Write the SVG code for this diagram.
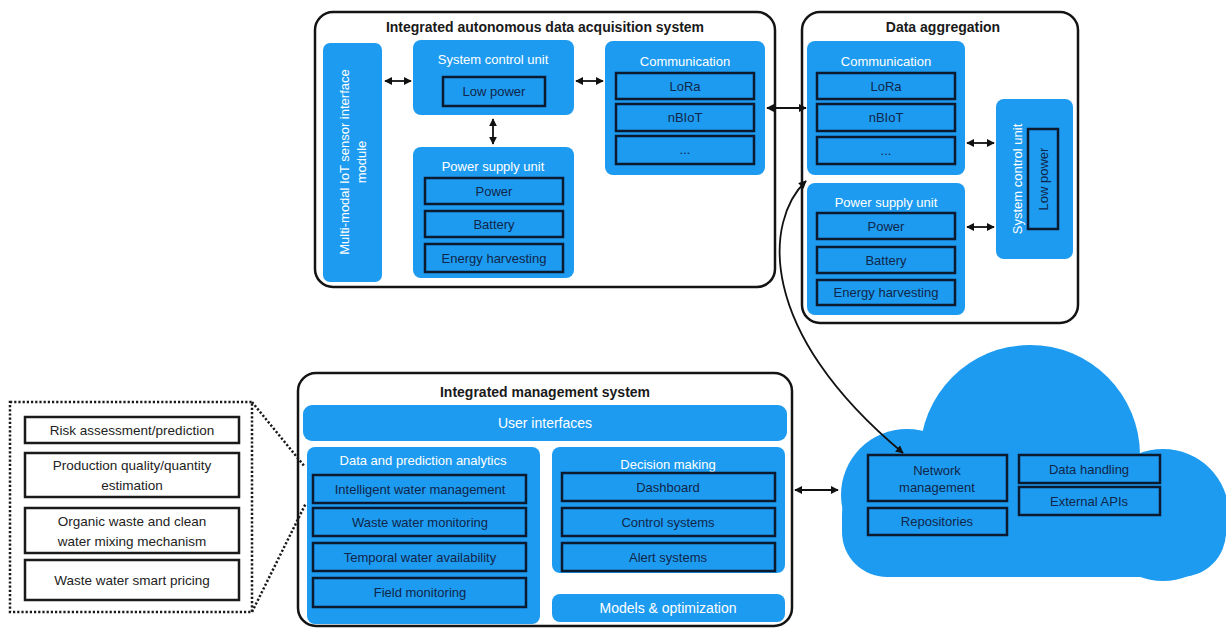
<svg xmlns="http://www.w3.org/2000/svg" width="1226" height="628" viewBox="0 0 1226 628">
<defs>
<style>
.frame{fill:#fff;stroke:#141414;stroke-width:2.5}
.panel{fill:#1d9bf0}
.sub{fill:#1d9bf0;stroke:#0c1a30;stroke-width:2.5}
.wbox{fill:#fff;stroke:#1a1a1a;stroke-width:2.5}
.dot{fill:none;stroke:#1a1a1a;stroke-width:2.5;stroke-dasharray:2.2 2}
.title{font-family:"Liberation Sans",Arial,sans-serif;font-weight:bold;font-size:14px;fill:#1a1a1a;text-anchor:middle}
.pt{font-family:"Liberation Sans",Arial,sans-serif;font-size:13px;fill:#fff;text-anchor:middle}
.st{font-family:"Liberation Sans",Arial,sans-serif;font-size:13px;fill:#10264a;text-anchor:middle}
.lt{font-family:"Liberation Sans",Arial,sans-serif;font-size:13.5px;fill:#222;text-anchor:middle}
.conn{fill:none;stroke:#111;stroke-width:1.8}
.cloud{fill:#1d9bf0}
</style>
<marker id="ah" viewBox="0 0 10 10" refX="9" refY="5" markerWidth="8" markerHeight="8" markerUnits="userSpaceOnUse" orient="auto-start-reverse">
<path d="M0,0 L10,5 L0,10 z" fill="#111"/>
</marker>
</defs>

<g id="acquisition-system">
<rect class="frame" x="315" y="12" width="460" height="275" rx="18"/>
<text class="title" x="545" y="32">Integrated autonomous data acquisition system</text>
</g>
<g id="multimodal-module">
<rect class="panel" x="323" y="43" width="59" height="239" rx="7"/>
<text class="pt" transform="translate(349,162) rotate(-90)">Multi-modal IoT sensor interface</text>
<text class="pt" transform="translate(366,162) rotate(-90)">module</text>
</g>
<g id="acq-system-control-unit">
<rect class="panel" x="413" y="40" width="161" height="75" rx="8"/>
<text class="pt" x="493" y="64">System control unit</text>
<rect class="sub" x="443" y="77" width="102" height="29"/>
<text class="st" x="494" y="96">Low power</text>
</g>
<g id="acq-power-supply-unit">
<rect class="panel" x="413" y="147" width="161" height="131" rx="8"/>
<text class="pt" x="493" y="171">Power supply unit</text>
<rect class="sub" x="425" y="178" width="138" height="26"/>
<text class="st" x="494" y="196">Power</text>
<rect class="sub" x="425" y="211" width="138" height="26"/>
<text class="st" x="494" y="229">Battery</text>
<rect class="sub" x="425" y="244" width="138" height="28"/>
<text class="st" x="494" y="263">Energy harvesting</text>
</g>
<g id="acq-communication">
<rect class="panel" x="605" y="41" width="160" height="134" rx="8"/>
<text class="pt" x="685" y="66">Communication</text>
<rect class="sub" x="616" y="73" width="138" height="26"/>
<text class="st" x="685" y="91">LoRa</text>
<rect class="sub" x="616" y="104" width="138" height="27"/>
<text class="st" x="685" y="122">nBIoT</text>
<rect class="sub" x="616" y="136" width="138" height="28"/>
<text class="st" x="685" y="154">...</text>
</g>

<g id="data-aggregation">
<rect class="frame" x="802" y="12" width="276" height="311" rx="18"/>
<text class="title" x="943" y="32">Data aggregation</text>
</g>
<g id="agg-communication">
<rect class="panel" x="807" y="41" width="158" height="134" rx="8"/>
<text class="pt" x="886" y="66">Communication</text>
<rect class="sub" x="817" y="73" width="138" height="26"/>
<text class="st" x="886" y="91">LoRa</text>
<rect class="sub" x="817" y="104" width="138" height="27"/>
<text class="st" x="886" y="122">nBIoT</text>
<rect class="sub" x="817" y="137" width="138" height="27"/>
<text class="st" x="886" y="155">...</text>
</g>
<g id="agg-power-supply-unit">
<rect class="panel" x="807" y="183" width="158" height="132" rx="8"/>
<text class="pt" x="886" y="207">Power supply unit</text>
<rect class="sub" x="817" y="213" width="138" height="26"/>
<text class="st" x="886" y="231">Power</text>
<rect class="sub" x="817" y="247" width="138" height="26"/>
<text class="st" x="886" y="265">Battery</text>
<rect class="sub" x="817" y="280" width="138" height="25"/>
<text class="st" x="886" y="297">Energy harvesting</text>
</g>
<g id="agg-system-control-unit">
<rect class="panel" x="996" y="99" width="77" height="160" rx="8"/>
<text class="pt" transform="translate(1022,179) rotate(-90)">System control unit</text>
<rect class="sub" x="1028" y="129" width="30" height="100"/>
<text class="st" transform="translate(1048,179) rotate(-90)">Low power</text>
</g>

<g id="management-system">
<rect class="frame" x="298" y="373" width="494" height="253" rx="18"/>
<text class="title" x="545" y="397">Integrated management system</text>
</g>
<g id="user-interfaces">
<rect class="panel" x="303" y="405" width="484" height="36" rx="9"/>
<text class="pt" x="545" y="428" style="font-size:14px">User interfaces</text>
</g>
<g id="data-prediction-analytics">
<rect class="panel" x="307" y="447" width="233" height="177" rx="8"/>
<text class="pt" x="423" y="465">Data and prediction analytics</text>
<rect class="sub" x="313" y="475" width="213" height="28"/>
<text class="st" x="420" y="494">Intelligent water management</text>
<rect class="sub" x="313" y="508" width="213" height="28"/>
<text class="st" x="420" y="527">Waste water monitoring</text>
<rect class="sub" x="313" y="543" width="213" height="28"/>
<text class="st" x="420" y="562">Temporal water availability</text>
<rect class="sub" x="313" y="578" width="213" height="29"/>
<text class="st" x="420" y="597">Field monitoring</text>
</g>
<g id="decision-making">
<rect class="panel" x="552" y="447" width="233" height="126" rx="8"/>
<text class="pt" x="668" y="469">Decision making</text>
<rect class="sub" x="562" y="473" width="213" height="28"/>
<text class="st" x="668" y="492">Dashboard</text>
<rect class="sub" x="562" y="508" width="213" height="28"/>
<text class="st" x="668" y="527">Control systems</text>
<rect class="sub" x="562" y="543" width="213" height="28"/>
<text class="st" x="668" y="562">Alert systems</text>
</g>
<g id="models-optimization">
<rect class="panel" x="552" y="594" width="233" height="28" rx="8"/>
<text class="pt" x="668" y="613" style="font-size:14px">Models &amp; optimization</text>
</g>

<g id="cloud">
<ellipse class="cloud" cx="1030" cy="455" rx="110" ry="110"/>
<circle class="cloud" cx="907" cy="495" r="66"/>
<circle class="cloud" cx="1163" cy="515" r="66"/>
<rect class="cloud" x="842" y="470" width="384" height="107" rx="45"/>
<rect class="sub" x="868" y="455" width="139" height="46"/>
<text class="st" x="937" y="475">Network</text>
<text class="st" x="937" y="492">management</text>
<rect class="sub" x="868" y="508" width="139" height="27"/>
<text class="st" x="937" y="526">Repositories</text>
<rect class="sub" x="1019" y="455" width="141" height="28"/>
<text class="st" x="1089" y="474">Data handling</text>
<rect class="sub" x="1019" y="487" width="141" height="28"/>
<text class="st" x="1089" y="506">External APIs</text>
</g>

<g id="analytics-detail">
<rect class="dot" x="10" y="402" width="242" height="210"/>
<rect class="wbox" x="25" y="417" width="214" height="26"/>
<text class="lt" x="132" y="435">Risk assessment/prediction</text>
<rect class="wbox" x="25" y="453" width="214" height="44"/>
<text class="lt" x="132" y="470">Production quality/quantity</text>
<text class="lt" x="132" y="490">estimation</text>
<rect class="wbox" x="25" y="508" width="214" height="45"/>
<text class="lt" x="132" y="526">Organic waste and clean</text>
<text class="lt" x="132" y="546">water mixing mechanism</text>
<rect class="wbox" x="25" y="560" width="214" height="40"/>
<text class="lt" x="132" y="585">Waste water smart pricing</text>
</g>

<g id="connectors">
<line class="conn" x1="385" y1="81" x2="411" y2="81" marker-start="url(#ah)" marker-end="url(#ah)"/>
<line class="conn" x1="576" y1="81" x2="603" y2="81" marker-start="url(#ah)" marker-end="url(#ah)"/>
<line class="conn" x1="493" y1="119" x2="493" y2="144" marker-start="url(#ah)" marker-end="url(#ah)"/>
<line class="conn" x1="767" y1="108" x2="806" y2="108" marker-start="url(#ah)" marker-end="url(#ah)"/>
<line class="conn" x1="967" y1="143" x2="994" y2="143" marker-start="url(#ah)" marker-end="url(#ah)"/>
<line class="conn" x1="967" y1="227" x2="994" y2="227" marker-start="url(#ah)" marker-end="url(#ah)"/>
<line class="conn" x1="795" y1="490" x2="838" y2="490" marker-start="url(#ah)" marker-end="url(#ah)"/>
<path class="conn" d="M806,181 C765,220 755,330 903,453" marker-start="url(#ah)" marker-end="url(#ah)"/>
<line class="dot" x1="252" y1="402" x2="305" y2="467"/>
<line class="dot" x1="252" y1="612" x2="306" y2="503"/>
</g>
</svg>
